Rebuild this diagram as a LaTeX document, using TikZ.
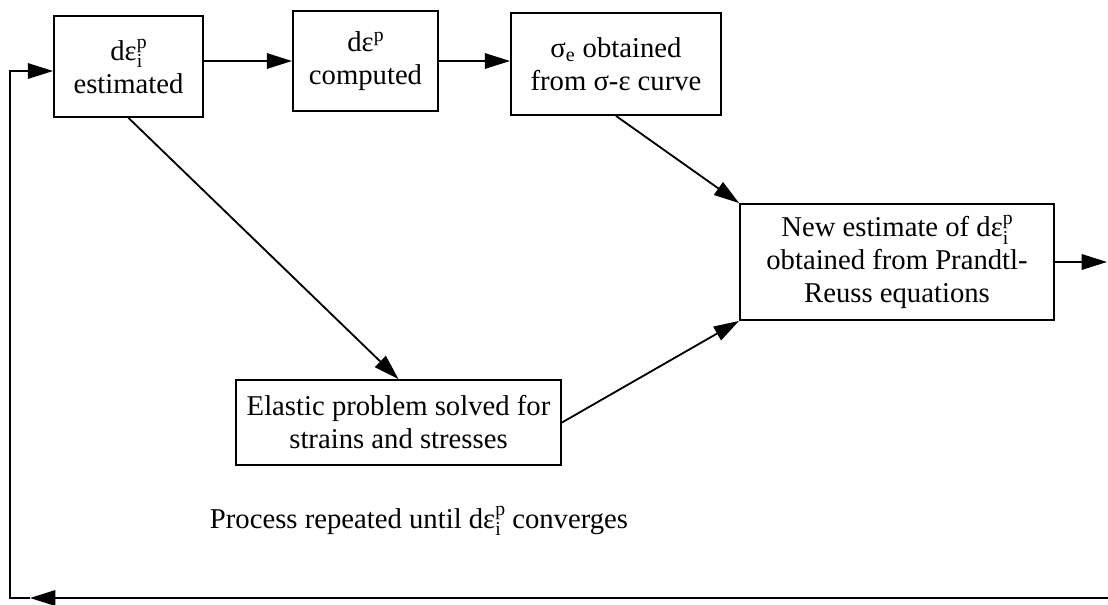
\documentclass[tikz,border=0pt]{standalone}
\usepackage{fontspec}
\setmainfont{Liberation Serif}
\usepackage{tikz}
\usetikzlibrary{arrows.meta}
\tikzset{procbox/.style={draw,line width=1.3pt,align=center,inner sep=2pt} }
\tikzset{flow/.style={line width=1.3pt,-{Triangle[length=18pt,width=11pt]}} }
\newcommand{\smallidx}{\fontsize{14}{14}\selectfont}
\newcommand{\dep}{dε\raisebox{0.75ex}{\smallidx p}}
\newcommand{\depi}{dε\rlap{\raisebox{-0.55ex}{\smallidx i}}\raisebox{0.95ex}{\smallidx p}}

\begin{document}
\begin{tikzpicture}[x=0.025cm,y=-0.025cm,font=\fontsize{20.4}{23.5}\selectfont]
    \useasboundingbox (0,0) rectangle (1108,604);
    \node[procbox,minimum width=3.725cm,minimum height=2.525cm] (est) at (128.5,66.5) {\depi\\estimated};
    \node[procbox,minimum width=3.625cm,minimum height=2.5cm] (comp) at (365.5,61) {\dep\\computed};
    \node[procbox,minimum width=5.25cm,minimum height=2.55cm] (sig) at (616,64) {σ\textsubscript{e} obtained\\from σ-ε curve};
    \node[procbox,minimum width=7.85cm,minimum height=2.9cm] (pr) at (897,262) {New estimate of \depi\\obtained from Prandtl-\\Reuss equations};
    \node[procbox,minimum width=8.125cm,minimum height=2.125cm] (el) at (398.5,422.5) {Elastic problem solved for\\strains and stresses};
    \node[anchor=base west] (note) at (205,528) {Process repeated until \depi\ converges};
    \coordinate (out) at (1107,262);
    \coordinate (fbr) at (1108,598);
    \coordinate (fbt) at (30,598);
    \coordinate (fbl) at (10,598);
    \coordinate (fbu) at (10,71);
    \draw[flow] (est.east |- comp.west) -- (comp.west);
    \draw[flow] (comp.east) -- (comp.east -| sig.west);
    \draw[flow] (est.south) -- (el.north);
    \draw[flow] (sig.south) -- (pr.north west);
    \draw[flow] (el.east) -- (pr.south west);
    \draw[flow] (pr.east) -- (out);
    \draw[flow] (fbr) -- (fbt);
    \draw[flow] (fbt) -- (fbl) -- (fbu) -- (fbu -| est.west);
\end{tikzpicture}
\end{document}
